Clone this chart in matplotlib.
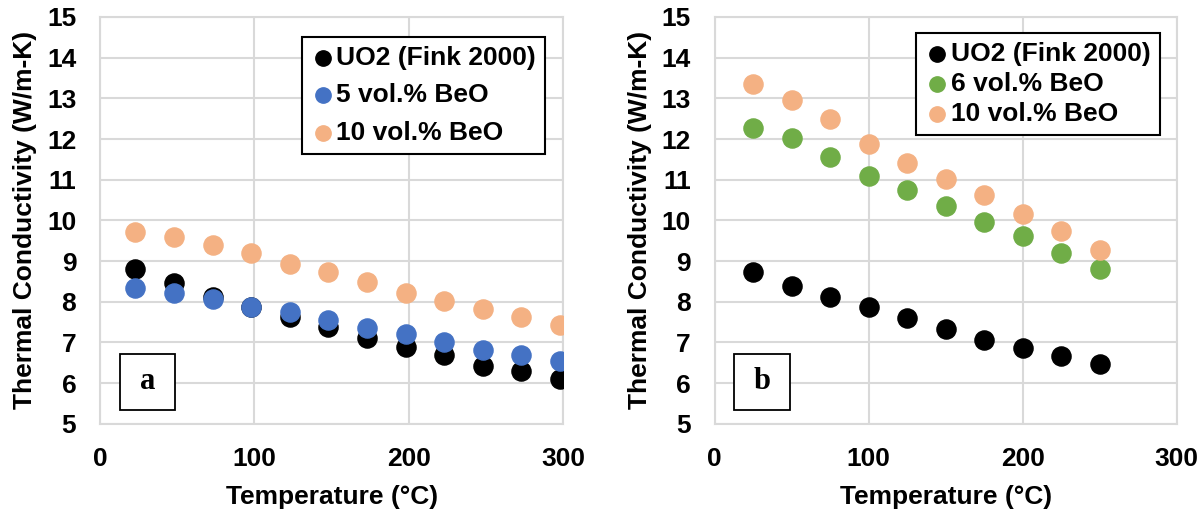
import matplotlib
matplotlib.use("Agg")
import matplotlib.pyplot as plt
from matplotlib.patches import Rectangle

plt.rcParams['font.family'] = ['Liberation Sans', 'DejaVu Sans']
plt.rcParams['font.weight'] = 'bold'

# panel a
temp_a = [23, 48, 73, 98, 123, 148, 173, 198, 223, 248, 273, 298]
uo2_a = [8.80, 8.47, 8.13, 7.88, 7.62, 7.37, 7.10, 6.88, 6.68, 6.42, 6.30, 6.10]
beo5_a = [8.35, 8.21, 8.08, 7.88, 7.75, 7.55, 7.35, 7.22, 7.02, 6.82, 6.68, 6.55]
beo10_a = [9.72, 9.59, 9.40, 9.20, 8.94, 8.74, 8.48, 8.21, 8.02, 7.82, 7.62, 7.42]

# panel b
temp_b = [25, 50, 75, 100, 125, 150, 175, 200, 225, 250]
uo2_b = [8.73, 8.40, 8.13, 7.86, 7.60, 7.33, 7.06, 6.86, 6.67, 6.47]
beo6_b = [12.28, 12.02, 11.55, 11.08, 10.75, 10.35, 9.95, 9.61, 9.21, 8.81]
beo10_b = [13.35, 12.96, 12.49, 11.89, 11.42, 11.02, 10.62, 10.15, 9.75, 9.28]

BLACK = '#000000'
BLUE = '#4472C4'
GREEN = '#70AD47'
ORANGE = '#F4B183'
GRID = '#D9D9D9'

fig = plt.figure(figsize=(11.97, 5.15), dpi=100)
ax1 = fig.add_axes([0.0835, 0.177, 0.387, 0.790])
ax2 = fig.add_axes([0.597, 0.177, 0.386, 0.790])


def style_axes(ax, letter, legend_anchor, spacing):
    ax.set_xlim(0, 300)
    ax.set_ylim(5, 15)
    ax.set_xticks([0, 100, 200, 300])
    ax.set_yticks(range(5, 16))
    ax.grid(True, color=GRID, linewidth=1.5)
    ax.set_axisbelow(True)
    for sp in ax.spines.values():
        sp.set_color(GRID)
        sp.set_linewidth(1.5)
    ax.tick_params(length=0, labelsize=19)
    ax.tick_params(axis='x', pad=17)
    ax.tick_params(axis='y', pad=17)
    ax.set_xlabel('Temperature (°C)', fontsize=19, fontweight='bold', labelpad=10)
    ax.set_ylabel('Thermal Conductivity (W/m-K)', fontsize=19, fontweight='bold', labelpad=7)
    leg = ax.legend(loc='upper right', bbox_to_anchor=legend_anchor, fontsize=19,
                    frameon=True, fancybox=False, edgecolor='black', framealpha=1,
                    handletextpad=0.05, handlelength=0.9, labelspacing=spacing,
                    borderpad=0.35, borderaxespad=0, markerscale=0.8, scatterpoints=1)
    leg.get_frame().set_linewidth(1.5)
    ax.add_patch(Rectangle((0.043, 0.034), 0.12, 0.138, transform=ax.transAxes,
                           fill=True, facecolor='white', edgecolor='black',
                           linewidth=1.3, zorder=5))
    ax.text(0.043 + 0.06, 0.034 + 0.069, letter, transform=ax.transAxes,
            fontsize=22, fontweight='bold', family='Liberation Serif',
            ha='center', va='center', zorder=6)


s = 190
ax1.scatter(temp_a, uo2_a, s=s, color=BLACK, label='UO2 (Fink 2000)', zorder=3)
ax1.scatter(temp_a, beo5_a, s=s, color=BLUE, label='5 vol.% BeO', zorder=3)
ax1.scatter(temp_a, beo10_a, s=s, color=ORANGE, label='10 vol.% BeO', zorder=3)
style_axes(ax1, 'a', (0.961, 0.951), 0.5)

ax2.scatter(temp_b, uo2_b, s=s, color=BLACK, label='UO2 (Fink 2000)', zorder=3)
ax2.scatter(temp_b, beo6_b, s=s, color=GREEN, label='6 vol.% BeO', zorder=3)
ax2.scatter(temp_b, beo10_b, s=s, color=ORANGE, label='10 vol.% BeO', zorder=3)
style_axes(ax2, 'b', (0.963, 0.961), 0.23)

fig.savefig('out.png', dpi=100)
